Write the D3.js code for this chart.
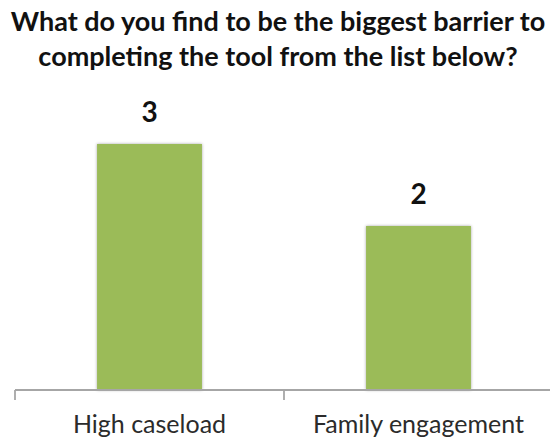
<!DOCTYPE html>
<html>
<head>
<meta charset="utf-8">
<script src="https://cdn.jsdelivr.net/npm/d3@7"></script>
<style>
  html, body { margin: 0; padding: 0; background: #fff; }
  svg { display: block; }
</style>
</head>
<body>
<svg id="chart" width="550" height="441"></svg>
<script>
const titleLines = ["What do you find to be the biggest barrier to", "completing the tool from the list below?"];
const categories = ["High caseload", "Family engagement"];
const values = [3, 2];

const W = 550, H = 441;
const svg = d3.select("#chart");

const defs = svg.append("defs");
const f = defs.append("filter").attr("id", "shadow").attr("x", "-10%").attr("y", "-10%").attr("width", "120%").attr("height", "120%");
f.append("feDropShadow").attr("dx", 0).attr("dy", 0).attr("stdDeviation", 1.6)
  .attr("flood-color", "#000").attr("flood-opacity", 0.35);

const baseY = 390;
const x = d3.scaleBand().domain(categories).range([15, 553]).padding(0);
const y = d3.scaleLinear().domain([0, 3]).range([baseY, 144]);
const barW = x.bandwidth() * 0.39;

// title
svg.append("g").selectAll("text").data(titleLines).join("text")
  .attr("x", 278)
  .attr("y", (d, i) => 31 + i * 35)
  .attr("text-anchor", "middle")
  .attr("font-family", "Lato, 'Open Sans', sans-serif")
  .attr("font-weight", "bold")
  .attr("font-size", 27)
  .attr("fill", "#111")
  .text(d => d);

// bars
svg.append("g").selectAll("rect").data(values).join("rect")
  .attr("x", (d, i) => x(categories[i]) + x.bandwidth() / 2 - barW / 2)
  .attr("y", d => y(d))
  .attr("width", barW)
  .attr("height", d => baseY - y(d))
  .attr("fill", "#9BBB59")
  .attr("filter", "url(#shadow)");

// value labels
svg.append("g").selectAll("text").data(values).join("text")
  .attr("x", (d, i) => x(categories[i]) + x.bandwidth() / 2)
  .attr("y", d => y(d) - 22)
  .attr("text-anchor", "middle")
  .attr("font-family", "Lato, 'Open Sans', sans-serif")
  .attr("font-weight", "bold")
  .attr("font-size", 28)
  .attr("fill", "#111")
  .text(d => d);

// axis
const axis = d3.axisBottom(x).tickSize(0).tickPadding(0);
const gx = svg.append("g").attr("transform", `translate(0,${baseY})`).call(axis);
gx.select(".domain").attr("stroke", "#a6a6a6").attr("stroke-width", 1.8).attr("d", `M15,0H553`);
gx.selectAll(".tick text").remove();
// tick marks at band boundaries
const bounds = categories.map(c => x(c)).concat([x.range()[1]]);
gx.selectAll(".bound").data(bounds).join("line")
  .attr("class", "bound")
  .attr("x1", d => d).attr("x2", d => d)
  .attr("y1", 0).attr("y2", 10)
  .attr("stroke", "#a6a6a6").attr("stroke-width", 1.8);

// category labels
svg.append("g").selectAll("text").data(categories).join("text")
  .attr("x", d => x(d) + x.bandwidth() / 2)
  .attr("y", 433)
  .attr("text-anchor", "middle")
  .attr("font-family", "Lato, 'Open Sans', sans-serif")
  .attr("font-size", 25)
  .attr("fill", "#2b2b2b")
  .text(d => d);
</script>
</body>
</html>
